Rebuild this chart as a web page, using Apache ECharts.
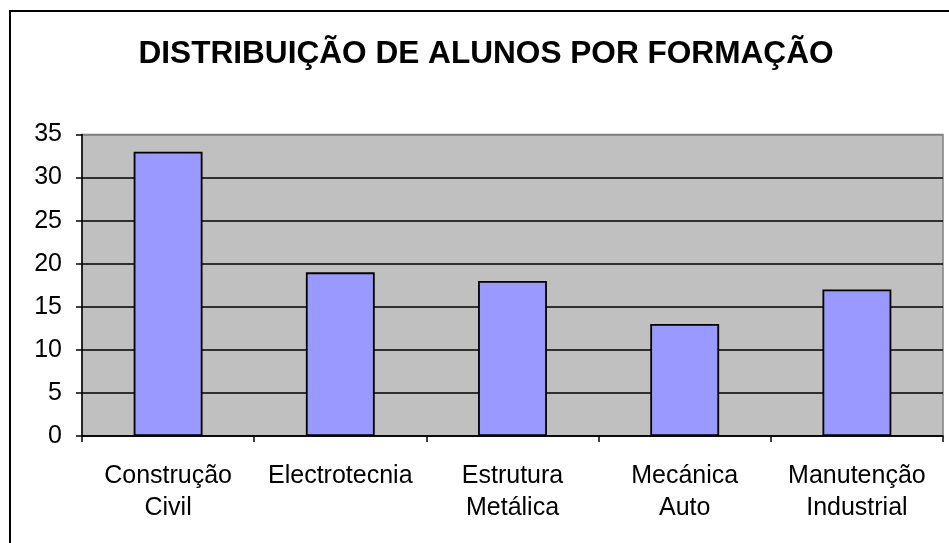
<!DOCTYPE html>
<html>
<head>
<meta charset="utf-8">
<script src="https://cdn.jsdelivr.net/npm/echarts@6/dist/echarts.min.js"></script>
<style>
    html, body { margin: 0; padding: 0; background: #fff; }
    #main { width: 949px; height: 543px; }
</style>
</head>
<body>
<div id="main"></div>
<script>
var categories = ['Construção\nCivil', 'Electrotecnia', 'Estrutura\nMetálica', 'Mecánica\nAuto', 'Manutenção\nIndustrial'];
var alunos = [33, 19, 18, 13, 17];
var yTicks = [0, 5, 10, 15, 20, 25, 30, 35];

// linha de topo cinzenta, restantes pretas
var gridColors = yTicks.map(function (v, i) {
    return i == yTicks.length - 1 ? '#808080' : '#000';
});

var myChart = echarts.init(document.getElementById('main'));
var option = {
    backgroundColor: '#ffffff',
    animation: false,
    title: {
        text: 'DISTRIBUIÇÃO DE ALUNOS POR FORMAÇÃO',
        left: 481,
        top: 33,
        textAlign: 'center',
        textStyle: {fontFamily: 'Liberation Sans', fontSize: 31.6, fontWeight: 'bold', color: '#000'}
    },
    graphic: [
        //----moldura do gráfico
        {type: 'rect', shape: {x: 10, y: 11, width: 1000, height: 600},
            style: {fill: 'none', stroke: '#000', lineWidth: 2}, z: 100}
    ],
    grid: {left: 82, right: 6, top: 134.5, bottom: 107, show: true,
        backgroundColor: '#c0c0c0', borderColor: '#808080', borderWidth: 1.5},
    xAxis: {
        type: 'category',
        data: categories,
        axisLine: {lineStyle: {color: '#000', width: 1.5}},
        axisTick: {show: true, length: 6, lineStyle: {color: '#000', width: 1.5}},
        axisLabel: {color: '#000', fontFamily: 'Liberation Sans', fontSize: 25, lineHeight: 32, margin: 24, interval: 0}
    },
    yAxis: {
        type: 'value',
        min: yTicks[0],
        max: yTicks[yTicks.length - 1],
        interval: 5,
        axisLine: {show: true, lineStyle: {color: '#000', width: 1.5}},
        axisTick: {show: true, length: 6, lineStyle: {color: '#000', width: 1.5}},
        axisLabel: {color: '#000', fontFamily: 'Liberation Sans', fontSize: 25, margin: 20},
        splitLine: {show: true, lineStyle: {color: gridColors, width: 1.5}}
    },
    series: [
        {type: 'bar', name: 'Alunos', data: alunos, barCategoryGap: '60%',
            itemStyle: {color: '#9999ff', borderColor: '#000', borderWidth: 1.8}}
    ]
};
myChart.setOption(option);
</script>
</body>
</html>
